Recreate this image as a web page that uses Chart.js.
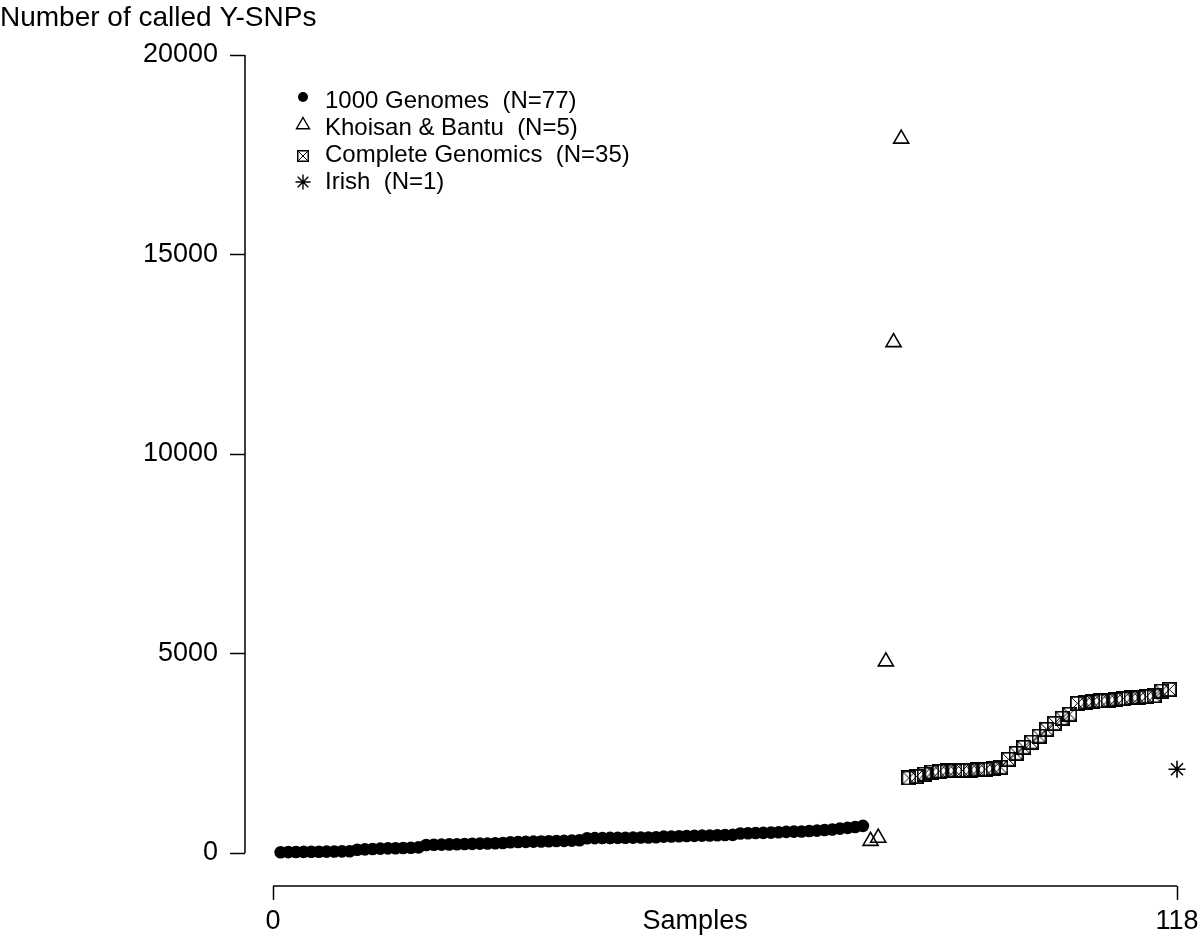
<!DOCTYPE html>
<html><head><meta charset="utf-8">
<script src="https://cdn.jsdelivr.net/npm/chart.js@4/dist/chart.umd.min.js"></script>
<style>html,body{margin:0;padding:0;background:#fff}#wrap{width:1200px;height:938px;position:relative}</style>
</head><body><div id="wrap"><canvas id="c"></canvas></div>
<script>
// ---- data ----
const seriesNames = ['1000 Genomes  (N=77)', 'Khoisan & Bantu  (N=5)', 'Complete Genomics  (N=35)', 'Irish  (N=1)'];
const genomesStart = 1;
const genomesValues = [20,22,25,28,30,32,35,38,40,45, 80,90,100,110,115,120,125,130,140,
  200,205,210,215,220,225,230,235,240,245,250, 270,275,280,285,290,295,300,305,310,320,
  370,372,375,378,380,382,385,388,390,395, 410,415,420,425,430,435,440,445,450,455,
  490,495,500,505,510,520,530,535,540,550, 560,575,590,610,630,650,680];
const khoisanStart = 78;
const khoisanValues = [300, 380, 4800, 12800, 17900];
const cgStart = 83;
const cgValues = [1880,1920,1980,2030,2050,2060,2070,2070,2080,2090,2100,2120,2150,2350,2500,
  2650,2780,2930,3100,3250,3380,3480,3750,3780,3800,3810,3830,3850,3870,3890,3900,3920,3940,4060,4100];
const irishStart = 118;
const irishValues = [2100];
const yTicks = [0, 5000, 10000, 15000, 20000];
const xTicks = [0, 118];
const xTitle = 'Samples';
const xTitlePos = 55.1;
const yTitle = 'Number of called Y-SNPs';

const FONT = "'Liberation Sans', Arial, Helvetica, sans-serif";
Chart.defaults.font.family = FONT;
Chart.defaults.color = '#000';

function toPts(start, vals){ return vals.map((v,i)=>({x:start+i, y:v})); }

function makeBoxX(size, lw){
  const c=document.createElement('canvas'); c.width=size; c.height=size;
  const g=c.getContext('2d');
  g.strokeStyle='#000'; g.lineWidth=lw; g.strokeRect(lw/2,lw/2,size-lw,size-lw);
  g.lineWidth=1; g.beginPath(); g.moveTo(lw,lw); g.lineTo(size-lw,size-lw); g.moveTo(size-lw,lw); g.lineTo(lw,size-lw); g.stroke();
  return c;
}
const boxX = makeBoxX(15, 1.8);
const boxXsmall = makeBoxX(12, 1.5);

function drawMarker(ctx, kind, x, y){
  ctx.save(); ctx.strokeStyle='#000'; ctx.fillStyle='#000'; ctx.lineWidth=1.4;
  if(kind===0){ ctx.beginPath(); ctx.arc(x,y,5,0,Math.PI*2); ctx.fill(); }
  else if(kind===1){ const r=7.5; ctx.beginPath();
    for(let k=0;k<3;k++){ const a=k*2*Math.PI/3; const px=x+Math.sin(a)*r, py=y-Math.cos(a)*r; k?ctx.lineTo(px,py):ctx.moveTo(px,py);} ctx.closePath(); ctx.stroke(); }
  else if(kind===2){ ctx.drawImage(boxXsmall, x-6, y-6); }
  else { const r=7.5; ctx.beginPath();
    for(let k=0;k<4;k++){ const a=k*Math.PI/4; ctx.moveTo(x-Math.cos(a)*r,y-Math.sin(a)*r); ctx.lineTo(x+Math.cos(a)*r,y+Math.sin(a)*r);} ctx.stroke(); }
  ctx.restore();
}

const rStyle = {
  id:'rStyle',
  afterDraw(chart){
    const {ctx, scales:{x,y}, chartArea} = chart;
    ctx.save(); ctx.strokeStyle='#000'; ctx.lineWidth=1.5;
    ctx.beginPath();
    const lx = chartArea.left;
    ctx.moveTo(lx, y.getPixelForValue(yTicks[0])); ctx.lineTo(lx, y.getPixelForValue(yTicks[yTicks.length-1]));
    const by = chartArea.bottom;
    ctx.moveTo(x.getPixelForValue(xTicks[0]), by); ctx.lineTo(x.getPixelForValue(xTicks[xTicks.length-1]), by);
    ctx.stroke();
    // legend
    const rows=[101,128,155,182];
    const mrows=[97,125,156,182];
    ctx.font = '24px ' + FONT; ctx.textBaseline='middle'; ctx.textAlign='left'; ctx.fillStyle='#000';
    seriesNames.forEach((n,i)=>{ drawMarker(ctx,i,303,mrows[i]); ctx.fillText(n,325,rows[i]); });
    ctx.restore();
  }
};

new Chart(document.getElementById('c'), {
  type:'scatter',
  data:{ datasets:[
    {label:seriesNames[0], data:toPts(genomesStart,genomesValues), pointStyle:'circle', pointRadius:6.3, backgroundColor:'#000', borderColor:'#000', borderWidth:0},
    {label:seriesNames[1], data:toPts(khoisanStart,khoisanValues), pointStyle:'triangle', pointRadius:8.7, backgroundColor:'rgba(0,0,0,0)', borderColor:'#000', borderWidth:1.6},
    {label:seriesNames[2], data:toPts(cgStart,cgValues), pointStyle:boxX, backgroundColor:'rgba(0,0,0,0)', borderColor:'#000'},
    {label:seriesNames[3], data:toPts(irishStart,irishValues), pointStyle:'star', pointRadius:8.5, backgroundColor:'rgba(0,0,0,0)', borderColor:'#000', borderWidth:1.6}
  ]},
  options:{
    responsive:true, maintainAspectRatio:false, animation:false,
    layout:{padding:{left:0,right:23,top:0,bottom:0}},
    clip:false,
    plugins:{
      legend:{display:false}, tooltip:{enabled:false},
      title:{display:true, text:yTitle, align:'start', color:'#000', font:{size:28, weight:'normal', family:FONT}, padding:{top:1,bottom:20.4}}
    },
    elements:{point:{hoverRadius:0}},
    scales:{
      x:{type:'linear', min:-3.655, max:118,
        afterBuildTicks:(s)=>{ s.ticks=[{value:xTicks[0]},{value:xTitlePos},{value:xTicks[1]}]; },
        afterFit:(s)=>{ s.height=52; s.paddingRight=0; s.paddingLeft=0; },
        grid:{drawOnChartArea:false, drawTicks:true, tickLength:14, tickWidth:1.5,
          tickColor:(c)=> (c.tick && c.tick.value===xTitlePos) ? 'rgba(0,0,0,0)' : '#000'},
        border:{display:false},
        ticks:{autoSkip:false, maxRotation:0, padding:5, font:{size:27}, color:'#000',
          callback:(v)=> v===xTitlePos ? xTitle : String(v)}
      },
      y:{type:'linear', min:-827, max:20000,
        afterBuildTicks:(s)=>{ s.ticks=yTicks.map(v=>({value:v})); },
        afterFit:(s)=>{ s.width=245; },
        grid:{drawOnChartArea:false, drawTicks:true, tickLength:15, tickWidth:1.5, tickColor:'#000'},
        border:{display:false},
        ticks:{padding:12, font:{size:27}, color:'#000', callback:(v)=>String(v)}
      }
    }
  },
  plugins:[rStyle]
});
</script></body></html>
